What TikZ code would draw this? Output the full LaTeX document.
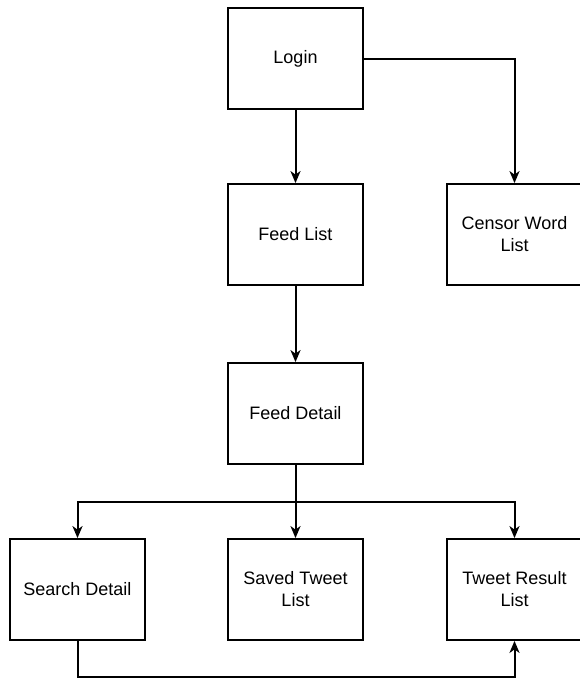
\documentclass[tikz,border=0pt]{standalone}
\usepackage{fontspec}
\setmainfont{Liberation Sans}
\usetikzlibrary{arrows.meta}
\begin{document}
\begin{tikzpicture}[x=1pt,y=-1pt,
  screen/.style={draw=black, line width=1.8pt, fill=white,
    minimum width=135pt, minimum height=101pt, inner sep=0pt,
    align=center, text=black, font=\fontsize{18}{22}\selectfont},
  flow/.style={draw=black, line width=2pt,
    -{Stealth[length=12pt,width=10pt,inset=3.5pt]}}]
  \useasboundingbox (0,0) rectangle (580,680);

  % screens
  \node[screen] (login)      at (295.5,58.5)  {Login};
  \node[screen] (feedlist)   at (295.5,234.5) {Feed List};
  \node[screen] (censor)     at (514.5,234.5) {Censor Word\\List};
  \node[screen] (feeddetail) at (295.5,413.5) {Feed Detail};
  \node[screen] (search)     at (77.5,589.5)  {Search Detail};
  \node[screen] (saved)      at (295.5,589.5) {Saved Tweet\\List};
  \node[screen] (tweet)      at (514.5,589.5) {Tweet Result\\List};

  % junction points of the routed connectors
  \coordinate (split) at (295.5,502);
  \coordinate (low)   at (77.5,677);

  % navigation
  \draw[flow] (login.south) -- (feedlist.north);
  \draw[flow] (login.east) -| (censor.north);
  \draw[flow] (feedlist.south) -- (feeddetail.north);
  \draw[flow] (feeddetail.south) -- (saved.north);
  \draw[flow] (split) -| (search.north);
  \draw[flow] (split) -| (tweet.north);
  \draw[flow] (search.south) -- (low) -| (tweet.south);
\end{tikzpicture}
\end{document}
